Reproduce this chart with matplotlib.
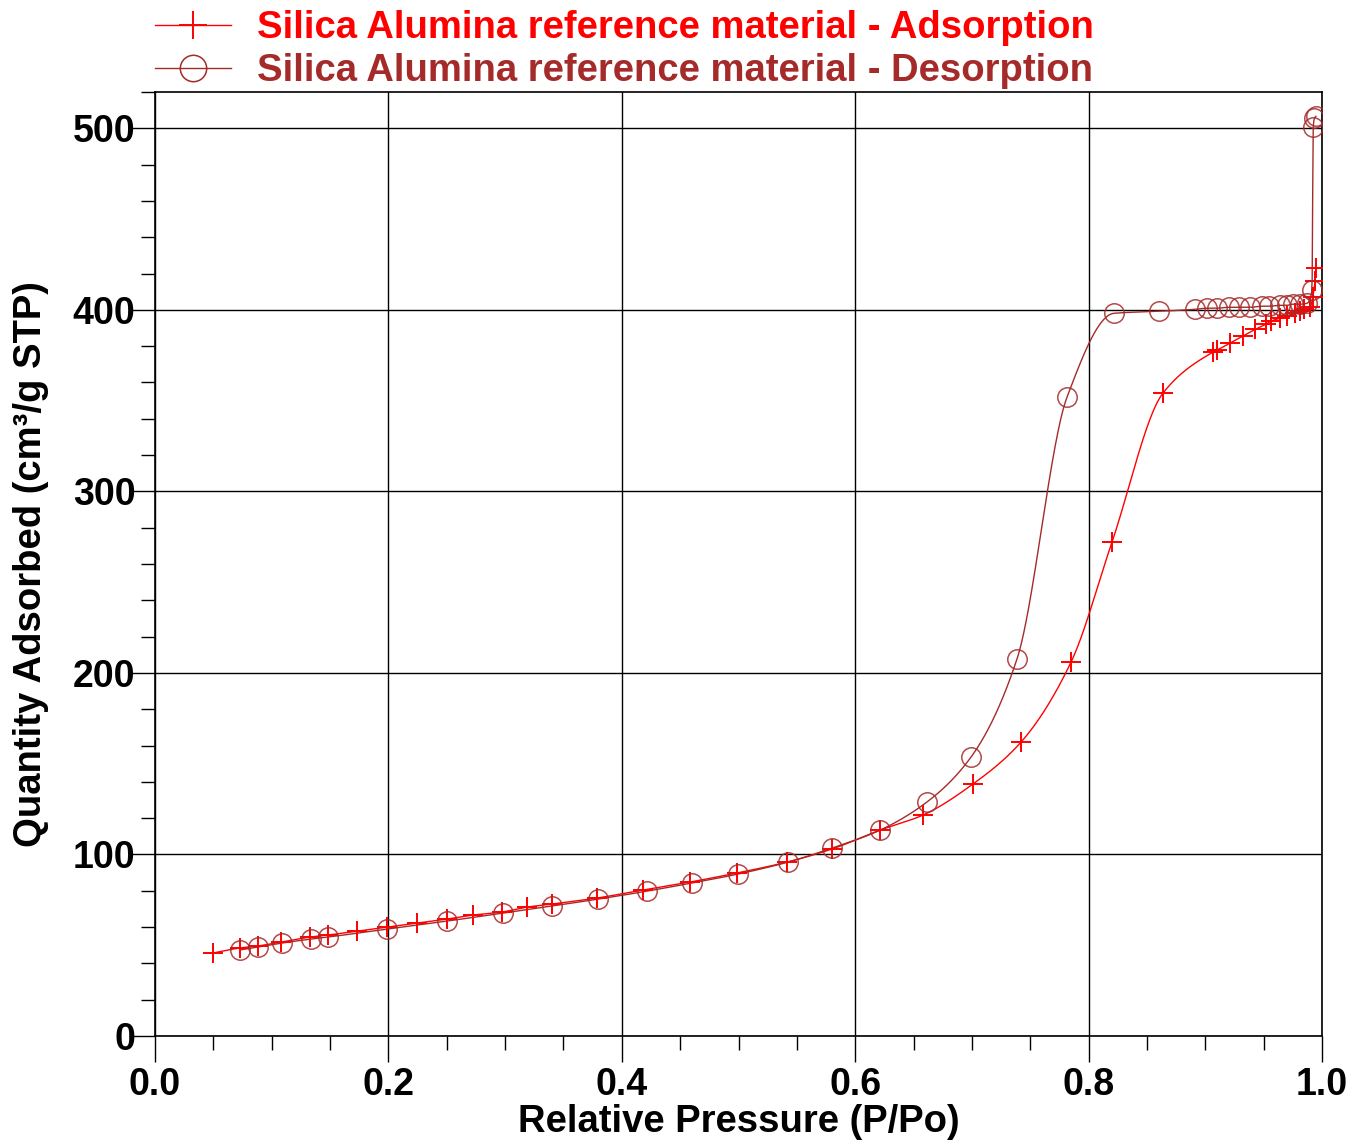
import numpy as np
import matplotlib
matplotlib.use("Agg")
import matplotlib.pyplot as plt
from matplotlib.ticker import MultipleLocator, FormatStrFormatter

# adsorption branch (relative pressure, cm3/g STP)
ads_p = [0.0497, 0.0728, 0.0883, 0.108, 0.1328, 0.1482, 0.1731, 0.1988, 0.2245,
         0.2502, 0.2725, 0.2973, 0.3188, 0.3402, 0.3787, 0.4182, 0.4584, 0.4987,
         0.5416, 0.5801, 0.6213, 0.6581, 0.7009, 0.7421, 0.7849, 0.8200, 0.8637,
         0.9066, 0.9100, 0.9210, 0.9320, 0.9430, 0.9520, 0.9560, 0.9640, 0.9700,
         0.9770, 0.9810, 0.9850, 0.9900, 0.9920, 0.9940, 0.9950]
ads_q = [45.7, 48.5, 49.6, 51.8, 54.5, 55.6, 57.8, 60.0, 62.2,
         64.4, 66.6, 68.3, 71.0, 72.7, 76.0, 80.4, 84.8, 89.8,
         95.8, 103.0, 113.4, 121.7, 138.8, 161.9, 205.9, 272.0, 354.1,
         376.7, 377.8, 381.6, 385.5, 389.3, 392.1, 393.7, 395.4, 396.5,
         398.1, 399.2, 400.3, 401.4, 406.9, 415.7, 422.9]

# desorption branch
des_p = [0.0728, 0.0883, 0.1088, 0.1337, 0.1482, 0.1988, 0.2502, 0.2982, 0.3402,
         0.3796, 0.4216, 0.4602, 0.4996, 0.5424, 0.5801, 0.6213, 0.6615, 0.6992,
         0.7386, 0.7815, 0.8218, 0.8603, 0.8912, 0.9015, 0.9100, 0.9200, 0.9290,
         0.9380, 0.9490, 0.9550, 0.9640, 0.9700, 0.9750, 0.9810, 0.9870, 0.9914,
         0.9925, 0.9935, 0.9948]
des_q = [47.4, 49.0, 51.2, 53.4, 54.5, 58.9, 63.3, 67.7, 71.6,
         75.4, 79.8, 84.3, 89.2, 95.8, 103.5, 113.4, 128.9, 153.6,
         207.6, 351.9, 398.1, 399.2, 400.3, 400.9, 400.9, 401.4, 401.4,
         401.4, 402.0, 402.0, 402.5, 402.5, 403.1, 403.1, 403.6, 410.8,
         500.6, 505.5, 506.6]

ADS_COLOR = "#ff0000"
DES_COLOR = "#a52a2a"
FONT = "Liberation Sans"


def pchip(x, y, xn):
    """Monotone cubic curve through the points, used only to draw the line."""
    x = np.asarray(x, float)
    y = np.asarray(y, float)
    h = np.diff(x)
    d = np.diff(y) / h
    m = np.zeros_like(y)
    m[0], m[-1] = d[0], d[-1]
    for k in range(1, len(x) - 1):
        if d[k - 1] * d[k] > 0:
            w1 = 2 * h[k] + h[k - 1]
            w2 = h[k] + 2 * h[k - 1]
            m[k] = (w1 + w2) / (w1 / d[k - 1] + w2 / d[k])
    idx = np.clip(np.searchsorted(x, xn) - 1, 0, len(x) - 2)
    t = (xn - x[idx]) / h[idx]
    h00 = 2 * t**3 - 3 * t**2 + 1
    h10 = t**3 - 2 * t**2 + t
    h01 = -2 * t**3 + 3 * t**2
    h11 = t**3 - t**2
    return h00 * y[idx] + h10 * h[idx] * m[idx] + h01 * y[idx + 1] + h11 * h[idx] * m[idx + 1]


fig = plt.figure(figsize=(13.64, 11.41), dpi=100)
ax = fig.add_axes([155 / 1364, 1 - 1036 / 1141, (1322 - 155) / 1364, (1036 - 92) / 1141])

xs = np.linspace(ads_p[0], ads_p[-1], 2000)
ax.plot(xs, pchip(ads_p, ads_q, xs), color=ADS_COLOR, lw=1.0, zorder=3)
ax.plot(ads_p, ads_q, ls="none", marker="+", ms=15, mew=1.4, color=ADS_COLOR, zorder=4)

xs = np.linspace(des_p[0], des_p[-1], 2000)
ax.plot(xs, pchip(des_p, des_q, xs), color=DES_COLOR, lw=1.0, zorder=3)
ax.plot(des_p, des_q, ls="none", marker="o", ms=14, mew=1.1, mfc="none",
        mec=DES_COLOR, alpha=0.85, zorder=4)

# legend handles
ax.plot([], [], color=ADS_COLOR, lw=1.0, marker="+", ms=20, mew=1.4,
        label="Silica Alumina reference material - Adsorption")
ax.plot([], [], color=DES_COLOR, lw=1.0, marker="o", ms=19, mew=1.1, mfc="none",
        label="Silica Alumina reference material - Desorption")
leg = ax.legend(loc="upper left", bbox_to_anchor=(155 / 1364, 1 - 10 / 1141),
                bbox_transform=fig.transFigure, frameon=False, borderpad=0,
                borderaxespad=0, handlelength=2.0, handletextpad=0.68,
                labelspacing=0.18, prop={"family": FONT, "weight": "bold", "size": 27.5})
for txt, c in zip(leg.get_texts(), [ADS_COLOR, DES_COLOR]):
    txt.set_color(c)

ax.set_xlim(0, 1.0)
ax.set_ylim(0, 520)
ax.xaxis.set_major_locator(MultipleLocator(0.2))
ax.xaxis.set_minor_locator(MultipleLocator(0.05))
ax.yaxis.set_major_locator(MultipleLocator(100))
ax.yaxis.set_minor_locator(MultipleLocator(20))
ax.xaxis.set_major_formatter(FormatStrFormatter("%.1f"))
ax.grid(True, which="major", color="black", lw=1.0)
ax.set_axisbelow(True)
for s in ax.spines.values():
    s.set_linewidth(1.2)
ax.tick_params(which="major", direction="out", length=19, width=1.0)
ax.tick_params(which="minor", direction="out", length=10, width=1.0)
ax.tick_params(axis="y", which="major", pad=-5)
ax.tick_params(axis="x", which="major", pad=3)
for lab in ax.get_xticklabels() + ax.get_yticklabels():
    lab.set_fontfamily(FONT)
    lab.set_fontweight("bold")
    lab.set_fontsize(27)

lab_font = {"family": FONT, "weight": "bold", "size": 27.5}
ax.set_xlabel("Relative Pressure (P/Po)", fontdict=lab_font, labelpad=1)
ax.set_ylabel("Quantity Adsorbed (cm³/g STP)", fontdict=lab_font, labelpad=17)

fig.savefig("out.png", dpi=100)
